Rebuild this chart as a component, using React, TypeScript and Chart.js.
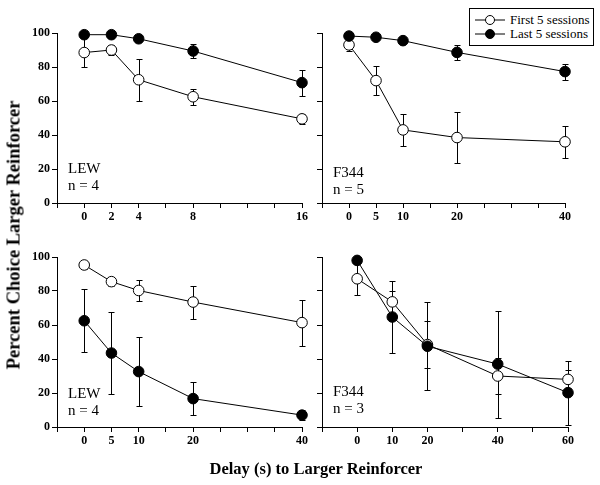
import React, { useEffect, useRef } from "react";
import { Chart, registerables } from "chart.js";

Chart.register(...registerables);

// ---- Data ----
const TL_DELAYS = [0, 2, 4, 8, 16];
const TL_FIRST = [88.5, 90, 72.5, 62.5, 49.5];
const TL_FIRST_ERR = [8.4, 2.8, 12.3, 4.7, 3];
const TL_LAST = [99, 99, 96.6, 89.4, 70.8];
const TL_LAST_ERR = [0, 0, 0, 4, 7.7];

const TR_DELAYS = [0, 5, 10, 20, 40];
const TR_FIRST = [93, 72, 43, 38.5, 36];
const TR_FIRST_ERR = [3.8, 8.6, 9.3, 15, 9.3];
const TR_LAST = [98.2, 97.5, 95.5, 88.6, 77.3];
const TR_LAST_ERR = [0, 0, 0, 4.5, 4.7];

const BL_DELAYS = [0, 5, 10, 20, 40];
const BL_FIRST = [95.3, 85.5, 80.3, 73.5, 61.4];
const BL_FIRST_ERR = [2.5, 2.5, 6, 9.7, 13.5];
const BL_LAST = [62.5, 43.5, 32.6, 16.7, 7];
const BL_LAST_ERR = [18.5, 24, 20.3, 9.6, 3];

const BR_DELAYS = [0, 10, 20, 40, 60];
const BR_FIRST = [87.2, 73.6, 48.5, 30, 28];
const BR_FIRST_ERR = [9.6, 6.3, 13.8, 10.6, 5.3];
const BR_LAST = [98, 64.7, 47.5, 37, 20.2];
const BR_LAST_ERR = [0, 21, 26, 31.5, 18.8];

const TL_TICKS = [0, 2, 4, 8, 16];
const TR_TICKS = [0, 5, 10, 20, 40];
const BL_TICKS = [0, 5, 10, 20, 40];
const BR_TICKS = [0, 10, 20, 40, 60];
const Y_TICKS = [0, 20, 40, 60, 80, 100];

const SERIES_NAMES = ["First 5 sessions", "Last 5 sessions"];

const FONT = "'Liberation Serif', 'Times New Roman', serif";

const errorBarPlugin = {
  id: "errorBars",
  beforeDatasetsDraw(chart: any) {
    const ctx = chart.ctx;
    const ys = chart.scales.y;
    const xs = chart.scales.x;
    ctx.save();
    ctx.strokeStyle = "#000";
    ctx.lineWidth = 1;
    chart.data.datasets.forEach((ds: any) => {
      const errs = ds.errors || [];
      ds.data.forEach((p: any, i: number) => {
        const e = errs[i];
        if (!e) return;
        const x = Math.round(xs.getPixelForValue(p.x)) + 0.5;
        const y1 = Math.round(ys.getPixelForValue(p.y + e)) + 0.5;
        const y2 = Math.round(ys.getPixelForValue(p.y - e)) + 0.5;
        const cap = 3;
        ctx.beginPath();
        ctx.moveTo(x, y1);
        ctx.lineTo(x, y2);
        ctx.moveTo(x - cap, y1);
        ctx.lineTo(x + cap, y1);
        ctx.moveTo(x - cap, y2);
        ctx.lineTo(x + cap, y2);
        ctx.stroke();
      });
    });
    ctx.restore();
  },
};

type PanelCfg = {
  left: number;
  top: number;
  width: number;
  height: number;
  delays: number[];
  first: number[];
  firstErr: number[];
  last: number[];
  lastErr: number[];
  xMin: number;
  xMax: number;
  step: number;
  tickLabels: number[];
  showY: boolean;
  padTop: number;
  padRight: number;
  yWidth: number;
  xHeight: number;
};

const panels: PanelCfg[] = [
  {
    left: 0, top: 0, width: 310, height: 235,
    delays: TL_DELAYS, first: TL_FIRST, firstErr: TL_FIRST_ERR, last: TL_LAST, lastErr: TL_LAST_ERR,
    xMin: -2, xMax: 16, step: 2, tickLabels: TL_TICKS, showY: true,
    padTop: 33, padRight: 8, yWidth: 57, xHeight: 32,
  },
  {
    left: 300, top: 0, width: 300, height: 235,
    delays: TR_DELAYS, first: TR_FIRST, firstErr: TR_FIRST_ERR, last: TR_LAST, lastErr: TR_LAST_ERR,
    xMin: -5, xMax: 40, step: 5, tickLabels: TR_TICKS, showY: false,
    padTop: 33, padRight: 35, yWidth: 22, xHeight: 32,
  },
  {
    left: 0, top: 235, width: 310, height: 250,
    delays: BL_DELAYS, first: BL_FIRST, firstErr: BL_FIRST_ERR, last: BL_LAST, lastErr: BL_LAST_ERR,
    xMin: -5, xMax: 40, step: 5, tickLabels: BL_TICKS, showY: true,
    padTop: 22, padRight: 8, yWidth: 57, xHeight: 58,
  },
  {
    left: 300, top: 235, width: 300, height: 250,
    delays: BR_DELAYS, first: BR_FIRST, firstErr: BR_FIRST_ERR, last: BR_LAST, lastErr: BR_LAST_ERR,
    xMin: -10, xMax: 60, step: 10, tickLabels: BR_TICKS, showY: false,
    padTop: 22, padRight: 32, yWidth: 22, xHeight: 58,
  },
];

function buildChart(canvas: HTMLCanvasElement, p: PanelCfg) {
  const toPts = (vals: number[]) => vals.map((v, i) => ({ x: p.delays[i], y: v }));
  const xTickValues: number[] = [];
  for (let v = p.xMin; v <= p.xMax + 1e-9; v += p.step) xTickValues.push(v);
  return new Chart(canvas, {
    type: "line",
    data: {
      datasets: [
        {
          label: SERIES_NAMES[1],
          data: toPts(p.last),
          errors: p.lastErr,
          borderColor: "#000",
          borderWidth: 1,
          backgroundColor: "#000",
          pointBackgroundColor: "#000",
          pointBorderColor: "#000",
          pointRadius: 5.3,
          pointBorderWidth: 1,
          tension: 0,
          clip: false,
        } as any,
        {
          label: SERIES_NAMES[0],
          data: toPts(p.first),
          errors: p.firstErr,
          borderColor: "#000",
          borderWidth: 1,
          backgroundColor: "#fff",
          pointBackgroundColor: "#fff",
          pointBorderColor: "#000",
          pointRadius: 5.3,
          pointBorderWidth: 1,
          tension: 0,
          clip: false,
        } as any,
      ],
    },
    options: {
      responsive: false,
      maintainAspectRatio: false,
      animation: false,
      devicePixelRatio: 1,
      layout: { padding: { top: p.padTop, right: p.padRight, left: 0, bottom: 0 } },
      plugins: { legend: { display: false }, tooltip: { enabled: false } },
      scales: {
        x: {
          type: "linear",
          min: p.xMin,
          max: p.xMax,
          afterBuildTicks: (s: any) => {
            s.ticks = xTickValues.map((v) => ({ value: v }));
          },
          afterFit: (s: any) => {
            s.height = p.xHeight;
          },
          grid: {
            drawOnChartArea: false,
            drawTicks: true,
            tickLength: 5,
            color: "#000",
            lineWidth: 1,
          },
          border: { display: true, color: "#000", width: 1 },
          ticks: {
            autoSkip: false,
            maxRotation: 0,
            padding: 2,
            color: "#000",
            font: { family: FONT, size: 12, weight: "bold" },
            callback: (v: any) => (p.tickLabels.includes(Number(v)) ? String(v) : ""),
          },
        },
        y: {
          type: "linear",
          min: 0,
          max: 100,
          afterBuildTicks: (s: any) => {
            s.ticks = Y_TICKS.map((v) => ({ value: v }));
          },
          afterFit: (s: any) => {
            s.width = p.yWidth;
          },
          grid: {
            drawOnChartArea: false,
            drawTicks: true,
            tickLength: 5,
            color: "#000",
            lineWidth: 1,
          },
          border: { display: true, color: "#000", width: 1 },
          ticks: {
            display: p.showY,
            padding: 2,
            color: "#000",
            font: { family: FONT, size: 12, weight: "bold" },
          },
        },
      },
    } as any,
    plugins: [errorBarPlugin],
  });
}

const labelStyle = (left: number, top: number): React.CSSProperties => ({
  position: "absolute",
  left,
  top,
  fontFamily: FONT,
  fontSize: 15,
  lineHeight: "17px",
  color: "#000",
  whiteSpace: "nowrap",
});

function Marker({ filled }: { filled: boolean }) {
  return (
    <svg width="30" height="12" style={{ display: "block" }}>
      <line x1="0" y1="6" x2="30" y2="6" stroke="#000" strokeWidth="1" />
      <circle cx="15" cy="6" r="4.5" fill={filled ? "#000" : "#fff"} stroke="#000" strokeWidth="1" />
    </svg>
  );
}

export default function App() {
  const refs = [
    useRef<HTMLCanvasElement>(null),
    useRef<HTMLCanvasElement>(null),
    useRef<HTMLCanvasElement>(null),
    useRef<HTMLCanvasElement>(null),
  ];

  useEffect(() => {
    document.body.style.margin = "0";
    const charts = panels.map((p, i) => buildChart(refs[i].current as HTMLCanvasElement, p));
    return () => charts.forEach((c) => c.destroy());
  }, []);

  return (
    <div style={{ position: "relative", width: 600, height: 485, background: "#fff", overflow: "hidden" }}>
      {panels.map((p, i) => (
        <canvas
          key={i}
          ref={refs[i]}
          width={p.width}
          height={p.height}
          style={{ position: "absolute", left: p.left, top: p.top, width: p.width, height: p.height }}
        />
      ))}

      <div style={labelStyle(68, 160)}>LEW<br />n = 4</div>
      <div style={labelStyle(333, 164)}>F344<br />n = 5</div>
      <div style={labelStyle(68, 385)}>LEW<br />n = 4</div>
      <div style={labelStyle(333, 383)}>F344<br />n = 3</div>

      <div
        style={{
          position: "absolute",
          left: 14,
          top: 235,
          transform: "translate(-50%, -50%) rotate(-90deg)",
          fontFamily: FONT,
          fontWeight: "bold",
          fontSize: 18.5,
          whiteSpace: "nowrap",
          color: "#000",
        }}
      >
        Percent Choice Larger Reinforcer
      </div>
      <div
        style={{
          position: "absolute",
          left: 316,
          top: 469,
          transform: "translate(-50%, -50%)",
          fontFamily: FONT,
          fontWeight: "bold",
          fontSize: 16.5,
          whiteSpace: "nowrap",
          color: "#000",
        }}
      >
        Delay (s) to Larger Reinforcer
      </div>

      <div
        style={{
          position: "absolute",
          left: 469,
          top: 8,
          width: 125,
          height: 38,
          border: "1px solid #000",
          boxSizing: "border-box",
          background: "#fff",
          fontFamily: FONT,
          fontSize: 13,
          color: "#000",
          padding: "4px 0 0 5px",
        }}
      >
        {[false, true].map((filled, i) => (
          <div key={i} style={{ display: "flex", alignItems: "center", height: 14 }}>
            <Marker filled={filled} />
            <span style={{ marginLeft: 5, whiteSpace: "nowrap" }}>{SERIES_NAMES[i]}</span>
          </div>
        ))}
      </div>
    </div>
  );
}
